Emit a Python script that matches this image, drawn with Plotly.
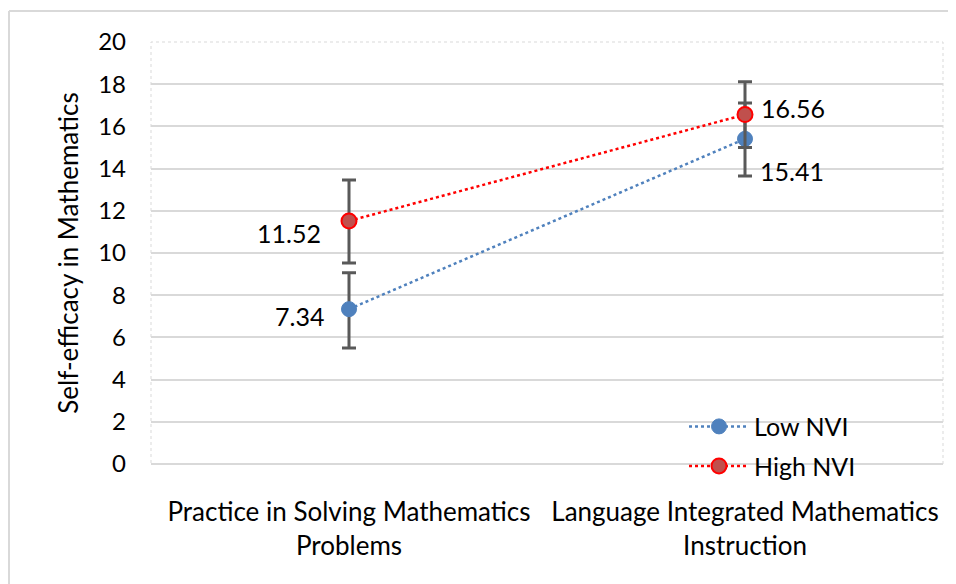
import plotly.graph_objects as go

categories = ["Practice in Solving Mathematics<br>Problems", "Language Integrated Mathematics<br>Instruction"]
low_nvi = [7.34, 15.41]
high_nvi = [11.52, 16.56]
low_err_plus = [1.72, 1.70]
low_err_minus = [1.84, 1.76]
high_err_plus = [1.94, 1.56]
high_err_minus = [1.99, 1.56]
y_ticks = [0, 2, 4, 6, 8, 10, 12, 14, 16, 18, 20]

FONT = "Lato"
fig = go.Figure()
fig.add_trace(go.Scatter(
    x=categories, y=low_nvi, name="Low NVI", mode="lines+markers", legendgroup="a",
    line=dict(color="#4F81BD", width=2.5, dash="dot"),
    marker=dict(color="#4F81BD", size=15, line=dict(color="#4F81BD", width=1)),
    error_y=dict(type="data", symmetric=False, array=low_err_plus, arrayminus=low_err_minus,
                 color="#595959", thickness=3, width=7),
))
fig.add_trace(go.Scatter(
    x=categories, y=high_nvi, name="High NVI", mode="lines+markers", legendgroup="b",
    line=dict(color="#FF0000", width=2.5, dash="dot"),
    marker=dict(color="#C0504D", size=15, line=dict(color="#FF0000", width=2)),
    error_y=dict(type="data", symmetric=False, array=high_err_plus, arrayminus=high_err_minus,
                 color="#595959", thickness=3, width=7),
))

# data labels
label_offsets_low = [(-50, -7), (47, -32)]
label_offsets_high = [(-60, -12), (48, 7)]
for cat, v, (dx, dy) in zip(categories, low_nvi, label_offsets_low):
    fig.add_annotation(x=cat, y=v, text=f"{v:.2f}", showarrow=False, xshift=dx, yshift=dy,
                       font=dict(family=FONT, size=25, color="#000000"))
for cat, v, (dx, dy) in zip(categories, high_nvi, label_offsets_high):
    fig.add_annotation(x=cat, y=v, text=f"{v:.2f}", showarrow=False, xshift=dx, yshift=dy,
                       font=dict(family=FONT, size=25, color="#000000"))

# outer chart border (left and top visible)
fig.add_shape(type="line", xref="paper", yref="paper", x0=-0.1793, x1=-0.1793, y0=1.0735, y1=-0.4,
              line=dict(color="#D9D9D9", width=2))
fig.add_shape(type="line", xref="paper", yref="paper", x0=-0.1793, x1=1.1, y0=1.0735, y1=1.0735,
              line=dict(color="#D9D9D9", width=2))
# plot area dashed border
fig.add_shape(type="rect", xref="paper", yref="paper", x0=0, x1=1, y0=0, y1=1,
              line=dict(color="#D9D9D9", width=1, dash="dot"), layer="below")

fig.update_layout(
    width=956, height=584,
    margin=dict(l=143, r=21, t=34, b=128),
    paper_bgcolor="white", plot_bgcolor="white",
    font=dict(family=FONT, size=25, color="#000000"),
    showlegend=True,
    legend=dict(x=0.673, y=0.143, xanchor="left", yanchor="top", bgcolor="rgba(0,0,0,0)",
                font=dict(family=FONT, size=25), tracegroupgap=4, itemwidth=60),
    xaxis=dict(type="category", range=[-0.5, 1.5], showgrid=False, showline=False,
               ticks="", ticklabelstandoff=30, tickfont=dict(family=FONT, size=26)),
    yaxis=dict(range=[0, 20], tickvals=y_ticks, showgrid=True, gridcolor="#D9D9D9", gridwidth=1.5,
               zeroline=True, zerolinecolor="#D9D9D9", zerolinewidth=2, showline=False,
               ticks="", ticklabelstandoff=24, tickfont=dict(family=FONT, size=24),
               title=dict(text="Self-efficacy in Mathematics", font=dict(family=FONT, size=26), standoff=12)),
)
fig.write_html("out.html")
